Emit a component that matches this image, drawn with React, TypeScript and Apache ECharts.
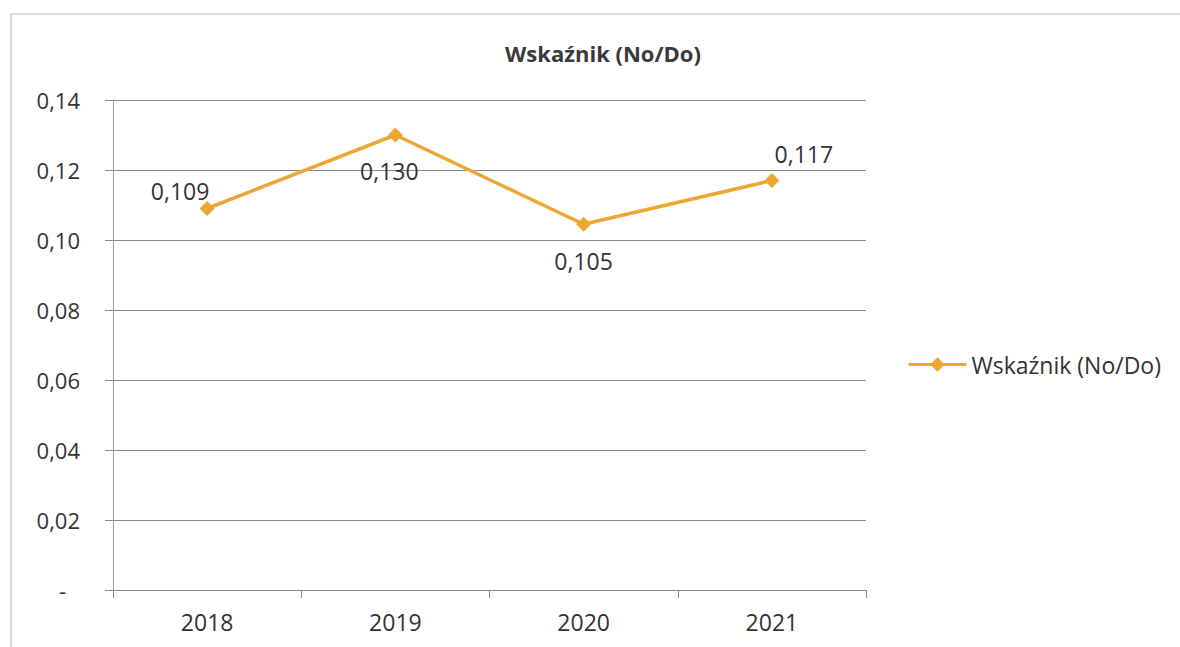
import React, { useEffect, useRef } from "react";
import * as echarts from "echarts";

const categories = ["2018", "2019", "2020", "2021"];
const values = [0.109, 0.13, 0.1045, 0.117];
const valueLabels = ["0,109", "0,130", "0,105", "0,117"];
const labelOffsets: [number, number][] = [
  [-27, -18],
  [-6, 36],
  [0, 37],
  [32, -27],
];
const seriesName = "Wskaźnik (No/Do)";
const titleText = "Wskaźnik (No/Do)";

const FONT = "'Open Sans', 'Noto Sans', sans-serif";
const COLOR = "#EBA732";

export default function App() {
  const ref = useRef<HTMLDivElement>(null);
  useEffect(() => {
    if (!ref.current) return;
    const chart = echarts.init(ref.current, null, { renderer: "svg" });
    chart.setOption({
      animation: false,
      backgroundColor: "#ffffff",
      title: {
        text: titleText,
        left: 598,
        textAlign: "center",
        top: 37,
        textStyle: { fontFamily: FONT, fontSize: 22, fontWeight: "bold", color: "#3a3a3a" },
      },
      graphic: [
        {
          type: "rect",
          shape: { x: 11, y: 14, width: 1200, height: 700 },
          style: { fill: "none", stroke: "#b8b8b8", lineWidth: 1 },
          silent: true,
        },
      ],
      legend: {
        orient: "vertical",
        left: 902,
        top: 348,
        itemWidth: 58,
        itemHeight: 18,
        itemGap: 10,
        lineStyle: { width: 3 },
        textStyle: { fontFamily: FONT, fontSize: 23, color: "#333" },
        data: [seriesName],
      },
      grid: { left: 113, right: 314, top: 100, bottom: 57, containLabel: false },
      xAxis: {
        type: "category",
        data: categories,
        boundaryGap: true,
        axisLine: { show: true, lineStyle: { color: "#8a8a8a", width: 1 } },
        axisTick: { show: true, length: 8, lineStyle: { color: "#8a8a8a" } },
        axisLabel: { fontFamily: FONT, fontSize: 23, color: "#333", margin: 20 },
        splitLine: { show: false },
      },
      yAxis: {
        type: "value",
        min: 0,
        max: 0.14,
        interval: 0.02,
        axisLine: { show: true, lineStyle: { color: "#9a9a9a", width: 1 } },
        axisTick: { show: true, length: 8, lineStyle: { color: "#8a8a8a" } },
        axisLabel: {
          fontFamily: FONT,
          fontSize: 22,
          color: "#333",
          margin: 33,
          formatter: (v: number) => (v === 0 ? "{d|-}" : v.toFixed(2).replace(".", ",")),
          rich: { d: { fontFamily: FONT, fontSize: 22, color: "#333", padding: [0, 14, 0, 0] } },
        },
        splitLine: { show: true, lineStyle: { color: "#8a8a8a", width: 1 } },
      },
      series: [
        {
          name: seriesName,
          type: "line",
          data: values.map((v, i) => ({
            value: v,
            label: {
              show: true,
              position: "inside",
              offset: labelOffsets[i],
              formatter: valueLabels[i],
            },
          })),
          symbol: "diamond",
          symbolSize: 15,
          itemStyle: { color: COLOR },
          lineStyle: { color: COLOR, width: 3.5 },
          label: { fontFamily: FONT, fontSize: 23, color: "#333" },
        },
      ],
    });
    return () => chart.dispose();
  }, []);
  return (
    <div
      ref={ref}
      style={{ position: "fixed", left: 0, top: 0, width: 1180, height: 647 }}
    />
  );
}
